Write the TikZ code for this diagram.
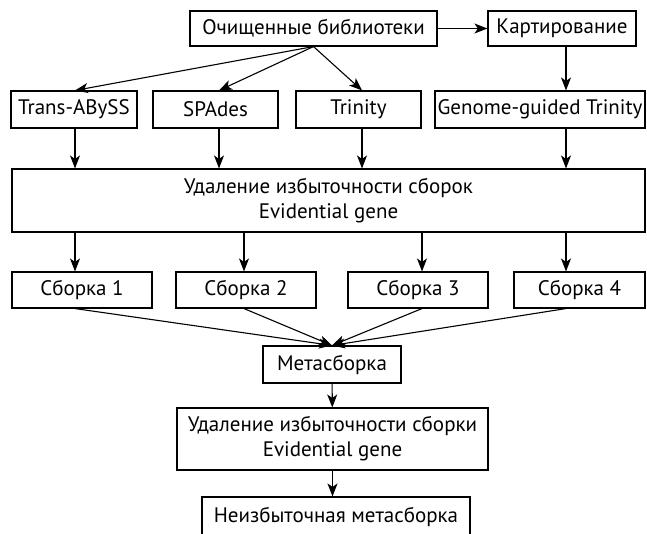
\documentclass[tikz,border=0pt]{standalone}
\usepackage{fontspec}
\setmainfont{PT Sans}
\usetikzlibrary{arrows.meta}
\begin{document}
\begin{tikzpicture}[x=1pt,y=-1pt,
  box/.style={draw, line width=1.1pt, inner sep=0pt, align=center, font=\fontsize{21}{25}\selectfont},
  arr/.style={line width=1.1pt, -{Stealth[length=13pt,width=10pt,inset=3.5pt]}}]
\useasboundingbox (0,0) rectangle (647,533);
\clip (0,0) rectangle (647,533);
\node[box, minimum width=247pt, minimum height=35pt] (lib) at (313.5,28.5) {Очищенные библиотеки};
\node[box, minimum width=148pt, minimum height=35pt] (map) at (562,28.5) {Картирование};
\node[box, minimum width=126pt, minimum height=37pt] (ta) at (74,109.5) {Trans-ABySS};
\node[box, minimum width=125pt, minimum height=37pt] (sp) at (215.5,109.5) {SPAdes};
\node[box, minimum width=125pt, minimum height=37pt] (tr) at (358.5,109.5) {Trinity};
\node[box, minimum width=210pt, minimum height=37pt] (gg) at (540,109.5) {Genome-guided Trinity};
\node[box, minimum width=633pt, minimum height=63pt] (big) at (328.5,200.5) {Удаление избыточности сборок\\Evidential gene};
\node[box, minimum width=140pt, minimum height=36pt] (s1) at (82,290) {Сборка 1};
\node[box, minimum width=140pt, minimum height=36pt] (s2) at (246,290) {Сборка 2};
\node[box, minimum width=140pt, minimum height=36pt] (s3) at (418,290) {Сборка 3};
\node[box, minimum width=131pt, minimum height=36pt] (s4) at (579.5,290) {Сборка 4};
\node[box, minimum width=138pt, minimum height=37pt] (meta) at (332,364.5) {Метасборка};
\node[box, minimum width=311pt, minimum height=62pt] (red) at (332.5,439) {Удаление избыточности сборки\\Evidential gene};
\node[box, minimum width=268pt, minimum height=40pt] (fin) at (336,517) {Неизбыточная метасборка};
% top row
\draw[arr] (lib) -- (map);
\draw[arr] (lib.south) -- ([xshift=1pt]ta.north);
\draw[arr] (lib.south) -- ([xshift=3.5pt]sp.north);
\draw[arr] (lib.south) -- ([xshift=3.5pt]tr.north);
\draw[arr] ([xshift=4pt]map.south) -- ([xshift=4pt]map.south |- gg.north);
% into big box
\draw[arr] ([xshift=1pt]ta.south) -- ([xshift=1pt]ta.south |- big.north);
\draw[arr] ([xshift=3.5pt]sp.south) -- ([xshift=3.5pt]sp.south |- big.north);
\draw[arr] ([xshift=3.5pt]tr.south) -- ([xshift=3.5pt]tr.south |- big.north);
\draw[arr] ([xshift=4pt]map.south |- gg.south) -- ([xshift=4pt]map.south |- big.north);
% out of big box
\draw[arr] ([xshift=-7pt]s1.north |- big.south) -- ([xshift=-7pt]s1.north);
\draw[arr] ([xshift=-2pt]s2.north |- big.south) -- ([xshift=-2pt]s2.north);
\draw[arr] ([xshift=4pt]s3.north |- big.south) -- ([xshift=4pt]s3.north);
\draw[arr] ([xshift=-13.5pt]s4.north |- big.south) -- ([xshift=-13.5pt]s4.north);
% converge
\draw[arr] ([xshift=-7pt]s1.south) -- (meta.north);
\draw[arr] ([xshift=-2pt]s2.south) -- (meta.north);
\draw[arr] ([xshift=4pt]s3.south) -- (meta.north);
\draw[arr] ([xshift=-13.5pt]s4.south) -- (meta.north);
% bottom chain
\draw[arr] (meta) -- (red);
\draw[arr] (red.south) -- (red.south |- fin.north);
\end{tikzpicture}
\end{document}
